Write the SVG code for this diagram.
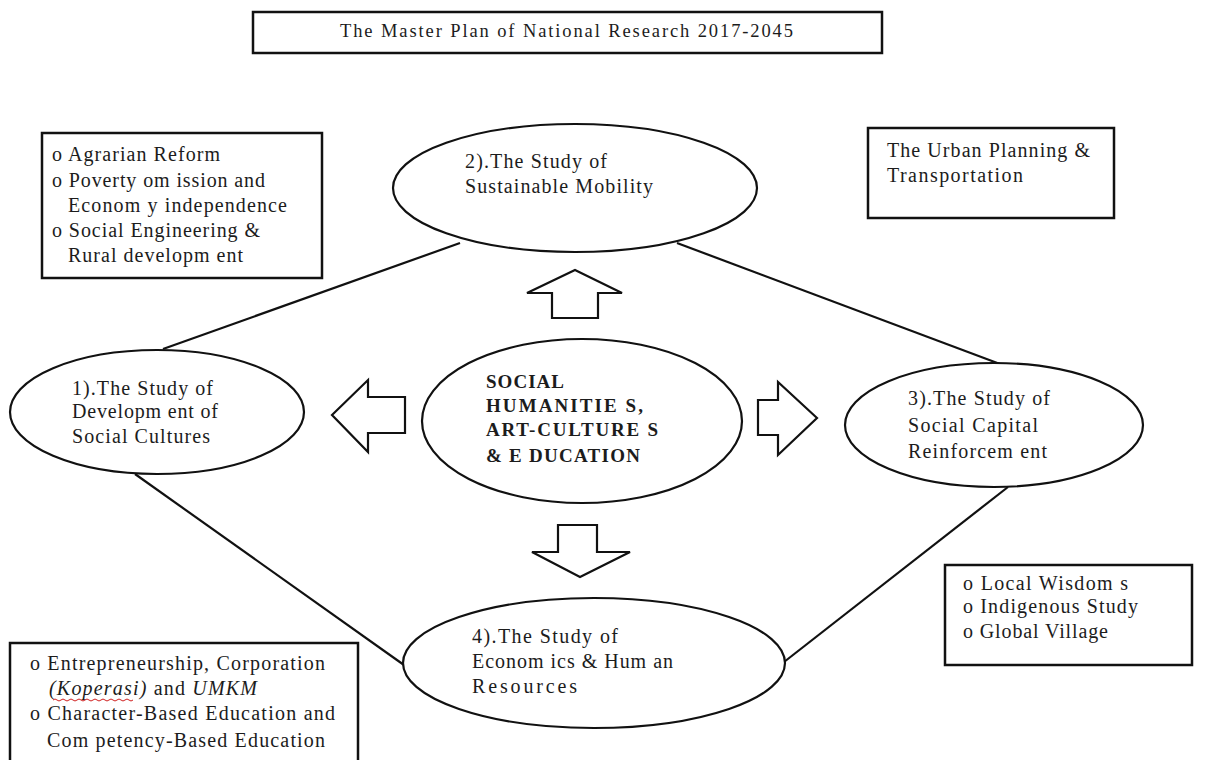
<svg xmlns="http://www.w3.org/2000/svg" width="1206" height="760" viewBox="0 0 1206 760">
<style>
  .bg { fill: #ffffff; }
  .box { fill: #ffffff; stroke: #111111; stroke-width: 2.5; }
  .ell { fill: #ffffff; stroke: #111111; stroke-width: 2.2; }
  .line { fill: none; stroke: #111111; stroke-width: 2.2; }
  .arrow { fill: #ffffff; stroke: #111111; stroke-width: 2.2; stroke-linejoin: miter; }
  .t { font-family: "Liberation Serif", "Times New Roman", serif; font-size: 20px; fill: #1c1c1c; }
  .title { font-size: 18.5px; }
  .b { font-weight: bold; font-size: 19px; }
  .i { font-style: italic; }
  .squig { fill: none; stroke: #d02020; stroke-width: 1; }
</style>
<rect class="bg" x="0" y="0" width="1206" height="760"/>

<g id="connectors">
  <line class="line" x1="460" y1="243" x2="163" y2="349"/>
  <line class="line" x1="677" y1="243" x2="1000" y2="364"/>
  <line class="line" x1="135" y1="474" x2="404" y2="665"/>
  <line class="line" x1="1008" y1="487" x2="784" y2="662"/>
  <polygon class="arrow" points="575,270 622,293 598,293 598,318 552,318 552,293 527,293"/>
  <polygon class="arrow" points="332,415 368,380 368,397 405,397 405,433 368,433 368,452"/>
  <polygon class="arrow" points="817,418 778,382 778,400 758,400 758,435 778,435 778,455"/>
  <polygon class="arrow" points="580,577 630,552 597,552 597,525 558,525 558,552 532,552"/>
</g>

<g id="title">
  <rect class="box" x="253" y="12" width="629" height="41"/>
  <text class="t title" x="340" y="37" textLength="453">The Master Plan of National Research 2017-2045</text>
</g>

<g id="box-agrarian">
  <rect class="box" x="42" y="133" width="280" height="145"/>
  <text class="t" x="52" y="161" textLength="168">o Agrarian Reform</text>
  <text class="t" x="52" y="187" textLength="213">o Poverty om ission and</text>
  <text class="t" x="68" y="212" textLength="219">Econom y independence</text>
  <text class="t" x="52" y="237" textLength="208">o Social Engineering &amp;</text>
  <text class="t" x="68" y="262" textLength="175">Rural developm ent</text>
</g>

<g id="box-urban">
  <rect class="box" x="868" y="128" width="246" height="90"/>
  <text class="t" x="887" y="157" textLength="203">The Urban Planning &amp;</text>
  <text class="t" x="887" y="182" textLength="136">Transportation</text>
</g>

<g id="node-2">
  <ellipse class="ell" cx="575" cy="188" rx="182" ry="64"/>
  <text class="t" x="465" y="168" textLength="142">2).The Study of</text>
  <text class="t" x="465" y="193" textLength="188">Sustainable Mobility</text>
</g>

<g id="node-1">
  <ellipse class="ell" cx="157" cy="412" rx="147" ry="62"/>
  <text class="t" x="72" y="395" textLength="141">1).The Study of</text>
  <text class="t" x="72" y="418" textLength="146">Developm ent of</text>
  <text class="t" x="72" y="443" textLength="138">Social Cultures</text>
</g>

<g id="node-center">
  <ellipse class="ell" cx="582" cy="421" rx="160" ry="82"/>
  <text class="t b" x="486" y="388" textLength="78">SOCIAL</text>
  <text class="t b" x="486" y="412" textLength="157">HUMANITIE S,</text>
  <text class="t b" x="486" y="436" textLength="172">ART-CULTURE S</text>
  <text class="t b" x="486" y="462" textLength="154">&amp; E DUCATION</text>
</g>

<g id="node-3">
  <ellipse class="ell" cx="994" cy="425" rx="149" ry="62"/>
  <text class="t" x="908" y="405" textLength="142">3).The Study of</text>
  <text class="t" x="908" y="432" textLength="130">Social Capital</text>
  <text class="t" x="908" y="458" textLength="139">Reinforcem ent</text>
</g>

<g id="box-local">
  <rect class="box" x="945" y="565" width="247" height="100"/>
  <text class="t" x="963" y="590" textLength="165">o  Local Wisdom s</text>
  <text class="t" x="963" y="613" textLength="175">o Indigenous Study</text>
  <text class="t" x="963" y="638" textLength="145">o Global Village</text>
</g>

<g id="node-4">
  <ellipse class="ell" cx="594" cy="663" rx="191" ry="65"/>
  <text class="t" x="472" y="643" textLength="146">4).The Study of</text>
  <text class="t" x="472" y="668" textLength="201">Econom ics &amp; Hum an</text>
  <text class="t" x="472" y="693" textLength="105">Resources</text>
</g>

<g id="box-entrepreneurship">
  <rect class="box" x="10" y="643" width="348" height="130"/>
  <text class="t" x="30" y="670" textLength="295">o Entrepreneurship, Corporation</text>
  <text class="t" x="49" y="695" textLength="208"><tspan class="i">(Koperasi)</tspan> and <tspan class="i">UMKM</tspan></text>
  <path class="squig" d="M53,700 q2,-2 4,0 t4,0 t4,0 t4,0 t4,0 t4,0 t4,0 t4,0 t4,0 t4,0 t4,0 t4,0 t4,0 t4,0 t4,0 t4,0 t4,0 t4,0 t4,0 t4,0"/>
  <text class="t" x="30" y="720" textLength="305">o Character-Based Education and</text>
  <text class="t" x="47" y="747" textLength="278">Com petency-Based Education</text>
</g>
</svg>
